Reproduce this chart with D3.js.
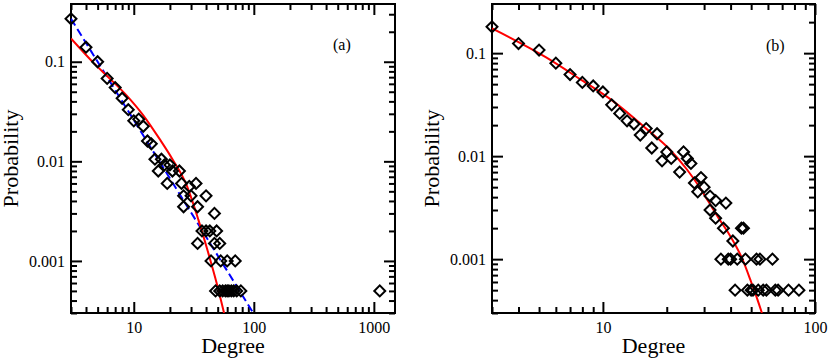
<!DOCTYPE html>
<html>
<head>
<meta charset="utf-8">
<script src="https://cdn.jsdelivr.net/npm/d3@7"></script>
<style>
html,body{margin:0;padding:0;background:#fff;}
svg{display:block;}
text{font-family:"Liberation Serif","Times New Roman",serif;fill:#000;}
</style>
</head>
<body>
<svg id="chart" width="830" height="360"></svg>
<script>
// ---------- data (panel a) ----------
const aDegree = [3,4,5,6,7,8,9,10,11,12,13,14,15,17,18,20,16,21,24,19,25,29,33,26,30,40,26,34,47,37,40,43,49,34,47,52,44,53,60,70,48,52,55,58,60,62,65,68,72,78,1120];
const aProb   = [0.27,0.14,0.10,0.068,0.055,0.043,0.033,0.0255,0.0265,0.0225,0.016,0.015,0.0105,0.0105,0.0092,0.0092,0.008,0.008,0.008,0.006,0.006,0.0056,0.006,0.0045,0.0045,0.0045,0.0035,0.0035,0.003,0.002,0.002,0.002,0.002,0.0015,0.0015,0.0015,0.001,0.001,0.001,0.001,0.0005,0.0005,0.0005,0.0005,0.0005,0.0005,0.0005,0.0005,0.0005,0.0005,0.0005];
// fitted curves (panel a)
const aRedDegree = [3,4.6,6.3,8.7,12,16.5,21,27.5,34.5,41.6,49,56.5];
const aRedProb   = [0.171,0.098,0.068,0.046,0.029,0.0166,0.0105,0.0058,0.0026,0.00122,0.0006,0.0003];
const aBlueDegree = [3,99];
const aBlueProb   = [0.27,0.0003];

// ---------- data (panel b) ----------
const bDegree = [3,4,5,6,7,8,9,10,11,12,13,14,15,16,17,18,19,20,21,24,25,26,23,29,27,28,30,32,34,38,32,34,37,41,45,46,36,39,40,43,47,53,55,63,42,48,50,51,54,57,59,65,67,75,84];
const bProb   = [0.18,0.124,0.107,0.080,0.062,0.052,0.048,0.042,0.0315,0.026,0.022,0.0205,0.016,0.0185,0.012,0.0165,0.009,0.011,0.0095,0.011,0.0095,0.0085,0.007,0.0062,0.0055,0.0045,0.005,0.0041,0.0037,0.0035,0.003,0.0025,0.002,0.0015,0.002,0.002,0.001,0.001,0.001,0.001,0.001,0.001,0.001,0.001,0.0005,0.0005,0.0005,0.0005,0.0005,0.0005,0.0005,0.0005,0.0005,0.0005,0.0005];
const bRedDegree = [3,5.4,7.8,11.2,16,20.5,24.8,28,31.5,35.6,39.7,45,50,53,56.2];
const bRedProb   = [0.174,0.091,0.056,0.034,0.0185,0.0118,0.0075,0.0053,0.0036,0.0024,0.0017,0.00105,0.0006,0.00043,0.0003];

// ---------- axes ----------
const aXTicks = [10,100,1000];
const bXTicks = [10,100];
const yTicks  = [0.1,0.01,0.001];
const aXDomain = [3,1500];
const bXDomain = [3,100];
const aYDomain = [0.0003,0.38];
const bYDomain = [0.0003,0.3];
const xTitle = "Degree";
const yTitle = "Probability";

const svg = d3.select("#chart");

function panel(opt){
  const {left,right,top,bottom} = opt.box;
  const x = d3.scaleLog().domain(opt.xDomain).range([left,right]);
  const y = d3.scaleLog().domain(opt.yDomain).range([bottom,top]);
  const g = svg.append("g");
  const clipId = "clip"+opt.id;
  svg.append("clipPath").attr("id",clipId).append("rect")
    .attr("x",left).attr("y",top).attr("width",right-left).attr("height",bottom-top);

  const near = (a,b)=>Math.abs(Math.log10(a)-Math.log10(b))<1e-6;
  const xMinor = x.ticks().filter(v=>!opt.xTicks.some(t=>near(t,v)) && v<=d3.max(opt.xTicks)*1.0001);
  const yAll = y.ticks().filter(v=>!yTicks.some(t=>near(t,v)));
  const yMinorLeft = yAll.filter(v=>v<=0.1001);
  const yMinorRight = yAll;

  function styleAxis(sel, fontSize){
    sel.select(".domain").remove();
    sel.selectAll(".tick line").attr("stroke","#000").attr("stroke-width",2);
    sel.selectAll(".tick text").attr("font-size",fontSize).attr("font-family","Liberation Serif, Times New Roman, serif").attr("fill","#000");
  }
  const fmt = d=>String(d);
  // bottom
  g.append("g").attr("transform",`translate(0,${bottom})`)
    .call(d3.axisBottom(x).tickValues(opt.xTicks).tickSize(-11).tickPadding(9).tickFormat(fmt))
    .call(s=>styleAxis(s,16));
  g.append("g").attr("transform",`translate(0,${bottom})`)
    .call(d3.axisBottom(x).tickValues(xMinor).tickSize(-6).tickFormat(""))
    .call(s=>styleAxis(s,16));
  // top
  g.append("g").attr("transform",`translate(0,${top})`)
    .call(d3.axisTop(x).tickValues(opt.xTicks).tickSize(-11).tickFormat(""))
    .call(s=>styleAxis(s,16));
  g.append("g").attr("transform",`translate(0,${top})`)
    .call(d3.axisTop(x).tickValues(xMinor).tickSize(-6).tickFormat(""))
    .call(s=>styleAxis(s,16));
  // left
  g.append("g").attr("transform",`translate(${left},0)`)
    .call(d3.axisLeft(y).tickValues(yTicks).tickSize(-11).tickPadding(6).tickFormat(fmt))
    .call(s=>styleAxis(s,16));
  g.append("g").attr("transform",`translate(${left},0)`)
    .call(d3.axisLeft(y).tickValues(yMinorLeft).tickSize(-6).tickFormat(""))
    .call(s=>styleAxis(s,16));
  // right
  g.append("g").attr("transform",`translate(${right},0)`)
    .call(d3.axisRight(y).tickValues(yTicks).tickSize(-11).tickFormat(""))
    .call(s=>styleAxis(s,16));
  g.append("g").attr("transform",`translate(${right},0)`)
    .call(d3.axisRight(y).tickValues(yMinorRight).tickSize(-6).tickFormat(""))
    .call(s=>styleAxis(s,16));

  // frame
  g.append("rect").attr("x",left).attr("y",top).attr("width",right-left).attr("height",bottom-top)
    .attr("fill","none").attr("stroke","#000").attr("stroke-width",2);

  const line = d3.line().x(d=>x(d[0])).y(d=>y(d[1]));
  // blue dashed power law
  if(opt.blue){
    g.append("path").datum(d3.zip(opt.blue[0],opt.blue[1]))
      .attr("clip-path",`url(#${clipId})`)
      .attr("d",line).attr("fill","none").attr("stroke","#0000ff")
      .attr("stroke-width",2).attr("stroke-dasharray","8,4");
  }
  // red curve
  g.append("path").datum(d3.zip(opt.red[0],opt.red[1]))
    .attr("clip-path",`url(#${clipId})`)
    .attr("d",line.curve(d3.curveMonotoneX)).attr("fill","none").attr("stroke","#ff0000")
    .attr("stroke-width",2);

  // diamonds
  const sym = d3.symbol().type(d3.symbolSquare).size(60);
  g.append("g").selectAll("path").data(d3.zip(opt.pts[0],opt.pts[1])).join("path")
    .attr("d",sym)
    .attr("transform",d=>`translate(${x(d[0])},${y(d[1])}) rotate(45)`)
    .attr("fill","none").attr("stroke","#000").attr("stroke-width",2);

  // titles
  g.append("text").attr("x",(left+right)/2).attr("y",353).attr("text-anchor","middle")
    .attr("font-size",22).text(xTitle);
  g.append("text").attr("transform",`translate(${left-53},${(top+bottom)/2}) rotate(-90)`)
    .attr("text-anchor","middle").attr("font-size",22).text(yTitle);
  g.append("text").attr("x",opt.tag[1]).attr("y",opt.tag[2]).attr("font-size",16).text(opt.tag[0]);
}

panel({id:"a", box:{left:71,right:395,top:4,bottom:313}, xDomain:aXDomain, yDomain:aYDomain,
  xTicks:aXTicks, pts:[aDegree,aProb], red:[aRedDegree,aRedProb], blue:[aBlueDegree,aBlueProb],
  tag:["(a)",333,50]});
panel({id:"b", box:{left:492,right:815,top:4,bottom:313}, xDomain:bXDomain, yDomain:bYDomain,
  xTicks:bXTicks, pts:[bDegree,bProb], red:[bRedDegree,bRedProb],
  tag:["(b)",766,51]});
</script>
</body>
</html>
